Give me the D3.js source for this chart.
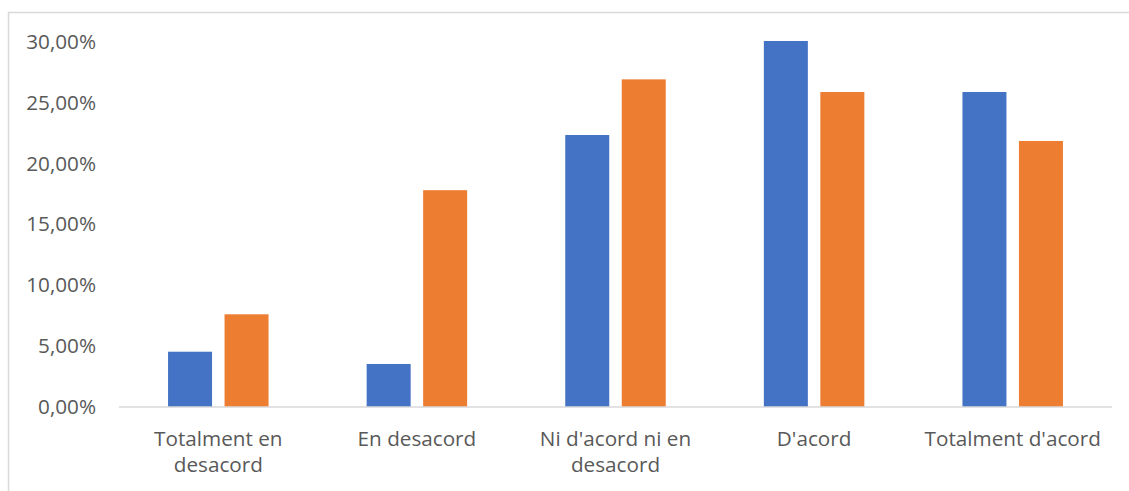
<!DOCTYPE html>
<html>
<head>
<meta charset="utf-8">
<script src="https://cdn.jsdelivr.net/npm/d3@7"></script>
<style>
  html, body { margin: 0; padding: 0; background: #fff; }
  svg { display: block; }
</style>
</head>
<body>
<svg id="chart" width="1129" height="491"></svg>
<script>
const categories = ["Totalment en desacord", "En desacord", "Ni d'acord ni en desacord", "D'acord", "Totalment d'acord"];
const seriesA = [0.0454, 0.0353, 0.2233, 0.3005, 0.2586];
const seriesB = [0.0761, 0.1780, 0.2690, 0.2586, 0.2184];
const yTicks = [0, 0.05, 0.10, 0.15, 0.20, 0.25, 0.30];
const colors = ["#4472C4", "#ED7D31"];

const svg = d3.select("#chart");
const W = 1129, H = 491;
const margin = { left: 119, right: 17, top: 41.6, bottom: 84 };
const plotW = W - margin.left - margin.right;
const y0 = 407;

svg.append("rect").attr("width", W).attr("height", H).attr("fill", "#fff");
// chart border (cropped at right/bottom)
svg.append("rect")
  .attr("x", 8.5).attr("y", 12.5)
  .attr("width", W + 20).attr("height", H + 20)
  .attr("fill", "none").attr("stroke", "#d9d9d9").attr("stroke-width", 1.5);

const x = d3.scaleBand().domain(categories).range([margin.left, margin.left + plotW]).paddingInner(0).paddingOuter(0);
const y = d3.scaleLinear().domain([0, 0.30]).range([y0, margin.top]);

const barW = 44, gap = 12.5;
const fmt = d => d3.format(".2f")(d * 100).replace(".", ",") + "%";

const g = svg.append("g");
[seriesA, seriesB].forEach((s, si) => {
  g.selectAll(".bar" + si).data(s).enter().append("rect")
    .attr("x", (d, i) => x(categories[i]) + x.bandwidth() / 2 + (si === 0 ? -gap / 2 - barW : gap / 2))
    .attr("y", d => y(d))
    .attr("width", barW)
    .attr("height", d => y0 - y(d))
    .attr("fill", colors[si]);
});

// baseline
svg.append("line")
  .attr("x1", margin.left).attr("x2", margin.left + plotW)
  .attr("y1", y0).attr("y2", y0)
  .attr("stroke", "#d9d9d9").attr("stroke-width", 1.5);

const FS = "20.7px";
// y axis labels
const yAxis = d3.axisLeft(y).tickValues(yTicks).tickFormat(fmt).tickSize(0).tickPadding(0);
const ya = svg.append("g").attr("transform", "translate(96,0)").call(yAxis);
ya.select(".domain").remove();
ya.selectAll("text")
  .attr("fill", "#595959")
  .style("font-family", "'Open Sans', sans-serif")
  .style("font-size", FS);

// x labels with wrapping
const xAxis = d3.axisBottom(x).tickSize(0).tickPadding(0);
const xa = svg.append("g").attr("transform", `translate(0,${y0})`).call(xAxis);
xa.select(".domain").remove();
xa.selectAll("text").each(function(d) {
  const t = d3.select(this);
  t.text(null).attr("y", 0).attr("dy", null)
    .attr("fill", "#595959")
    .style("font-family", "'Open Sans', sans-serif")
    .style("font-size", FS);
  const words = d.split(" ");
  let lines = [], cur = [];
  const maxW = 190;
  const probe = t.append("tspan");
  words.forEach(w => {
    const test = cur.concat([w]).join(" ");
    probe.text(test);
    if (probe.node().getComputedTextLength() > maxW && cur.length) {
      lines.push(cur.join(" "));
      cur = [w];
    } else cur.push(w);
  });
  lines.push(cur.join(" "));
  probe.remove();
  lines.forEach((ln, i) => {
    t.append("tspan").attr("x", 0).attr("y", 38.5 + i * 26.5).text(ln);
  });
});
</script>
</body>
</html>
